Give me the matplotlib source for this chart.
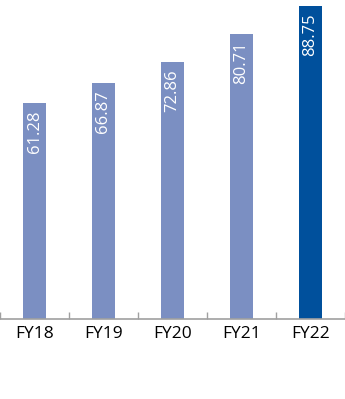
import matplotlib
matplotlib.use("Agg")
import matplotlib.pyplot as plt
import numpy as np

categories = ["FY18", "FY19", "FY20", "FY21", "FY22"]
values = [61.28, 66.87, 72.86, 80.71, 88.75]
colors = ["#7b8fc2", "#7b8fc2", "#7b8fc2", "#7b8fc2", "#00509c"]

plt.rcParams["font.family"] = ["Open Sans", "DejaVu Sans"]

fig = plt.figure(figsize=(3.45, 3.99), dpi=100)
ax = fig.add_axes([0, 0.2005, 1, 0.7995])

x = np.arange(len(categories))
ax.bar(x, values, width=0.32, color=colors, zorder=2)

for xi, v in zip(x, values):
    ax.annotate(
        f"{v:.2f}",
        (xi, v),
        xytext=(0, -5.5),
        textcoords="offset points",
        rotation=90,
        ha="center",
        va="top",
        color="white",
        fontsize=12,
    )

ax.set_xlim(-0.5, len(categories) - 0.5)
ax.set_ylim(0, 90.4)
ax.set_yticks([])
ax.set_xticks(x)
ax.set_xticklabels(categories, fontsize=12.5)
ax.tick_params(axis="x", length=0, pad=5)

# boundary ticks pointing up from the axis
ax.set_xticks(np.arange(-0.5, len(categories)), minor=True)
ax.tick_params(axis="x", which="minor", direction="in", length=5, color="#a0a0a0", width=1)

for side in ["top", "right", "left"]:
    ax.spines[side].set_visible(False)
ax.spines["bottom"].set_color("#a0a0a0")
ax.spines["bottom"].set_linewidth(1.2)

fig.savefig("out.png", dpi=100)
